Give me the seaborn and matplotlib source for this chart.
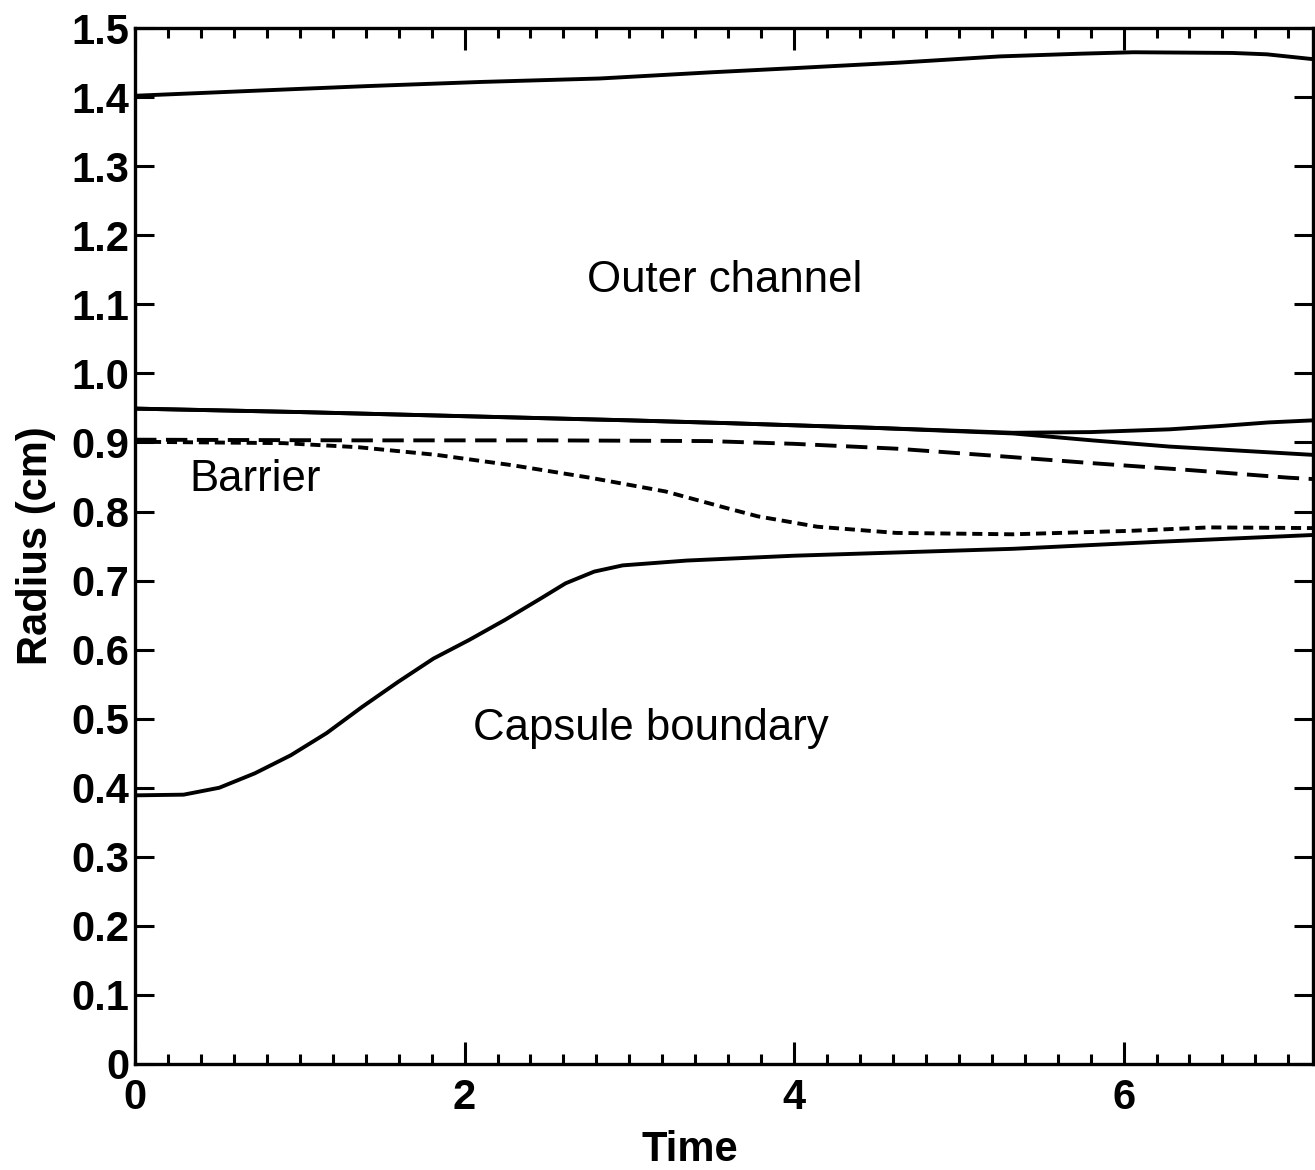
import numpy as np
import pandas as pd
import seaborn as sb
import matplotlib.pyplot as plt
from matplotlib.ticker import MultipleLocator, FixedLocator

sb.set_style("ticks")
plt.rcParams['font.family'] = ['Liberation Sans', 'DejaVu Sans']
plt.rcParams['text.color'] = 'black'
plt.rcParams['axes.labelcolor'] = 'black'
plt.rcParams['xtick.color'] = 'black'
plt.rcParams['ytick.color'] = 'black'

# outer channel boundary
outer_t = [0, 0.7, 1.41, 2.1, 2.82, 3.5, 4.0, 4.64, 5.25, 5.75, 6.06, 6.66, 6.87, 7.15]
outer_r = [1.402, 1.409, 1.416, 1.422, 1.427, 1.436, 1.442, 1.450, 1.459, 1.463, 1.465, 1.464, 1.462, 1.455]

# inner channel wall, upper branch (turns up after t~5.3)
wallA_t = [0, 1, 2, 3, 3.59, 4.5, 5.33, 5.8, 6.28, 6.6, 6.88, 7.15]
wallA_r = [0.949, 0.944, 0.938, 0.932, 0.928, 0.921, 0.914, 0.915, 0.919, 0.924, 0.929, 0.932]

# inner channel wall, lower branch
wallB_t = [0, 1, 2, 3, 3.59, 4.5, 5.33, 5.81, 6.28, 7.15]
wallB_r = [0.949, 0.944, 0.938, 0.932, 0.928, 0.921, 0.913, 0.903, 0.894, 0.882]

# barrier, long dashes
barrier_t = [0, 1.36, 2.5, 3.48, 4.0, 4.62, 5.2, 5.81, 6.4, 7.0, 7.15]
barrier_r = [0.904, 0.903, 0.903, 0.902, 0.898, 0.891, 0.881, 0.870, 0.860, 0.849, 0.847]

# barrier inner edge, short dashes
inner_t = [0, 0.9, 1.36, 1.83, 2.29, 2.76, 3.22, 3.59, 3.78, 4.14, 4.62, 5.33, 6.04, 6.52, 7.15]
inner_r = [0.901, 0.899, 0.893, 0.882, 0.867, 0.849, 0.829, 0.805, 0.793, 0.778, 0.769, 0.767, 0.772, 0.777, 0.776]

# capsule boundary
caps_t = [0, 0.295, 0.511, 0.728, 0.945, 1.162, 1.378, 1.595, 1.811, 2.028, 2.245, 2.462,
          2.613, 2.787, 2.96, 3.35, 4.0, 5.33, 6.2, 7.15]
caps_r = [0.389, 0.390, 0.400, 0.421, 0.447, 0.479, 0.517, 0.553, 0.587, 0.614, 0.643, 0.674,
          0.696, 0.713, 0.722, 0.729, 0.736, 0.746, 0.756, 0.766]

labels = ["Outer channel", "Barrier", "Capsule boundary"]
label_t = [3.58, 0.73, 3.13]
label_r = [1.135, 0.846, 0.486]

fig = plt.figure(figsize=(13.15, 11.7), dpi=100)
ax = fig.add_axes([0.1027, 0.0906, 0.8958, 0.8854])

lw = 2.8
sb.lineplot(x=outer_t, y=outer_r, ax=ax, color="black", lw=lw)
sb.lineplot(x=wallA_t, y=wallA_r, ax=ax, color="black", lw=lw)
sb.lineplot(x=wallB_t, y=wallB_r, ax=ax, color="black", lw=lw)
sb.lineplot(x=barrier_t, y=barrier_r, ax=ax, color="black", lw=lw)
ax.lines[-1].set_dashes([5.5, 2.45])
sb.lineplot(x=inner_t, y=inner_r, ax=ax, color="black", lw=lw)
ax.lines[-1].set_dashes([2.6, 1.5])
sb.lineplot(x=caps_t, y=caps_r, ax=ax, color="black", lw=lw)

for s, t, r in zip(labels, label_t, label_r):
    ax.text(t, r, s, fontsize=31.5, ha="center", va="center", color="black")

ax.set_xlim(0, 7.15)
ax.set_ylim(0, 1.5)
ax.xaxis.set_major_locator(FixedLocator([0, 2, 4, 6]))
ax.xaxis.set_minor_locator(MultipleLocator(0.2))
ax.yaxis.set_major_locator(MultipleLocator(0.1))
ax.set_yticklabels(["0" if abs(v) < 1e-9 else f"{v:.1f}" for v in ax.get_yticks()])

ax.tick_params(axis="both", which="both", direction="in", top=True, right=True,
               color="black", width=2.2)
ax.tick_params(axis="x", which="major", length=16, pad=10, labelsize=30)
ax.tick_params(axis="x", which="minor", length=7.5)
ax.tick_params(axis="y", which="major", length=14, pad=4, labelsize=30)
for lab in ax.get_xticklabels() + ax.get_yticklabels():
    lab.set_fontweight("bold")

ax.set_xlabel("Time", fontsize=30, fontweight="bold")
ax.set_ylabel("Radius (cm)", fontsize=30, fontweight="bold", labelpad=11)
ax.xaxis.set_label_coords(0.471, -0.064)

for sp in ax.spines.values():
    sp.set_linewidth(2.4)
    sp.set_color("black")
ax.grid(False)

fig.savefig("out.png", dpi=100)
